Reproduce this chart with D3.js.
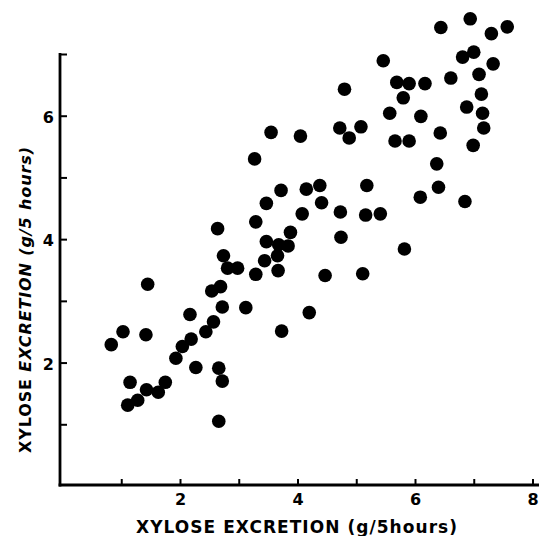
<!DOCTYPE html>
<html>
<head>
<meta charset="utf-8">
<script src="https://cdn.jsdelivr.net/npm/d3@7"></script>
<style>
  html, body { margin: 0; padding: 0; background: #fff; }
  svg { display: block; }
  text { font-family: "DejaVu Sans", "Open Sans", sans-serif; font-weight: bold; fill: #000; }
</style>
</head>
<body>
<svg id="chart" width="539" height="536"></svg>
<script>
// Data: xylose excretion (g/5 hours), x vs y
const xValues = [
  0.83, 1.03, 1.42, 1.45, 1.15, 1.11, 1.28, 1.43, 1.63, 1.75,
  1.93, 2.04, 2.19, 2.27, 2.17, 2.44, 2.57, 2.54, 2.69, 2.72,
  2.66, 2.72, 2.66, 2.64, 2.74, 2.81, 2.98, 3.12, 3.29, 3.29,
  3.47, 3.44, 3.47, 3.27, 3.55, 3.68, 3.84, 3.66, 3.88, 3.67,
  3.73, 3.72, 4.08, 4.15, 4.38, 4.41, 4.05, 4.20, 4.47, 4.74,
  4.73, 4.72, 4.80, 4.88, 5.08, 5.11, 5.16, 5.41, 5.18, 5.46,
  5.57, 5.66, 5.90, 5.69, 5.90, 6.17, 5.80, 6.10, 5.82, 6.09,
  6.37, 6.40, 6.43, 6.44, 6.61, 6.81, 7.00, 6.94, 7.30, 7.57,
  7.33, 7.09, 7.13, 6.88, 7.15, 7.17, 6.99, 6.85
];
const yValues = [
  2.29, 2.50, 2.45, 3.27, 1.68, 1.31, 1.39, 1.56, 1.52, 1.68,
  2.07, 2.26, 2.38, 1.92, 2.78, 2.50, 2.66, 3.16, 3.23, 2.90,
  1.91, 1.70, 1.05, 4.17, 3.73, 3.53, 3.53, 2.89, 3.43, 4.28,
  3.96, 3.65, 4.58, 5.30, 5.73, 3.91, 3.89, 3.73, 4.11, 3.49,
  2.51, 4.79, 4.41, 4.81, 4.87, 4.59, 5.67, 2.81, 3.41, 4.03,
  4.44, 5.80, 6.43, 5.64, 5.82, 3.44, 4.39, 4.41, 4.87, 6.89,
  6.04, 5.59, 5.59, 6.54, 6.52, 6.52, 6.29, 5.99, 3.84, 4.68,
  5.22, 4.84, 5.72, 7.43, 6.61, 6.95, 7.03, 7.57, 7.33, 7.44,
  6.84, 6.67, 6.35, 6.14, 6.04, 5.80, 5.52, 4.61
];
const xTicks = [1, 2, 3, 4, 5, 6, 7, 8];
const yTicks = [1, 2, 3, 4, 5, 6, 7];
const xLabeled = [2, 4, 6, 8];
const yLabeled = [2, 4, 6];
const xTitle = "XYLOSE  EXCRETION  (g/5hours)";
const yTitleA = "XYLOSE  ";
const yTitleB = "EXCRETION (g/5 hours)";

const points = xValues.map((v, i) => ({ x: v, y: yValues[i] }));

const svg = d3.select("#chart");
const x = d3.scaleLinear().domain([0, 8]).range([62.5, 532.5]);
const y = d3.scaleLinear().domain([0, 7]).range([486, 54]);

const xAxisY = 485;
const yAxisX = 60;

// Y axis
const yAxis = d3.axisLeft(y)
  .tickValues(yTicks)
  .tickSizeInner(-7)
  .tickSizeOuter(0)
  .tickPadding(6)
  .tickFormat(d => yLabeled.includes(d) ? d : "");
const gy = svg.append("g").attr("transform", `translate(${yAxisX},0)`).call(yAxis);
gy.select(".domain").remove();
gy.selectAll(".tick line").attr("stroke", "#000").attr("stroke-width", 2);
gy.selectAll(".tick text").style("font-size", "16px").attr("dy", "0.42em");

// X axis
const xAxis = d3.axisBottom(x)
  .tickValues(xTicks)
  .tickSizeInner(-6)
  .tickSizeOuter(0)
  .tickPadding(9)
  .tickFormat(d => xLabeled.includes(d) ? d : "");
const gx = svg.append("g").attr("transform", `translate(0,${xAxisY})`).call(xAxis);
gx.select(".domain").remove();
gx.selectAll(".tick line").attr("stroke", "#000").attr("stroke-width", 2);
gx.selectAll(".tick text").style("font-size", "16px");

// Axis lines
svg.append("line")
  .attr("x1", yAxisX).attr("x2", yAxisX)
  .attr("y1", y(7) - 1).attr("y2", xAxisY + 1.4)
  .attr("stroke", "#000").attr("stroke-width", 2.8);
svg.append("line")
  .attr("x1", yAxisX - 1.4).attr("x2", 539)
  .attr("y1", xAxisY).attr("y2", xAxisY)
  .attr("stroke", "#000").attr("stroke-width", 2.8);

// Points
svg.append("g").selectAll("circle")
  .data(points)
  .join("circle")
  .attr("cx", d => x(d.x))
  .attr("cy", d => y(d.y))
  .attr("r", 6.8)
  .attr("fill", "#000");

// X title
svg.append("text")
  .attr("x", 136).attr("y", 533)
  .attr("textLength", 321)
  .attr("lengthAdjust", "spacing")
  .style("font-size", "17px")
  .text(xTitle);

// Y title
const yt = svg.append("text")
  .attr("transform", "translate(31,453) rotate(-90)")
  .attr("x", 0).attr("y", 0)
  .attr("textLength", 306)
  .attr("lengthAdjust", "spacing")
  .style("font-size", "16px");
yt.append("tspan").text(yTitleA);
yt.append("tspan").style("font-style", "italic").text(yTitleB);
</script>
</body>
</html>
